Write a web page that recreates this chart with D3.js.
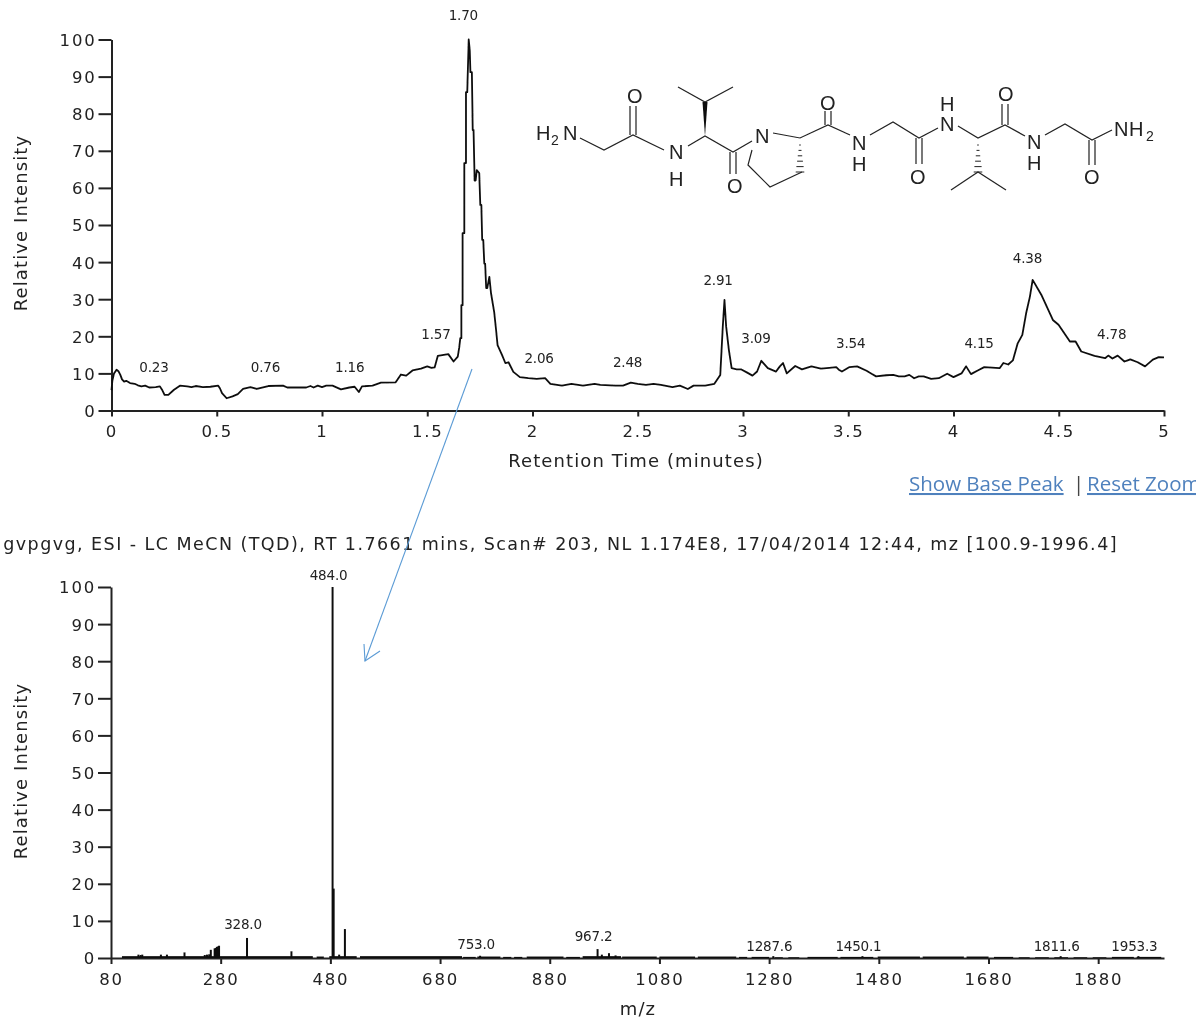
<!DOCTYPE html>
<html>
<head>
<meta charset="utf-8">
<script src="https://cdn.jsdelivr.net/npm/d3@7"></script>
<style>
  html, body { margin:0; padding:0; background:#fff; overflow:hidden; }
  svg { display:block; }
  text { font-family:"DejaVu Sans", sans-serif; fill:#222; }
  .tick text { font-size:16.5px; letter-spacing:1.8px; }
  .tick line, .domain { stroke:#222; stroke-width:2px; }
  .peak { font-size:13.5px; letter-spacing:-0.2px; }
  .title { font-size:18px; letter-spacing:1.1px; }
  .atom { font-family:"Liberation Sans", sans-serif; font-size:20px; fill:#222; }
</style>
</head>
<body>
<svg width="1196" height="1019"></svg>
<script>
// chromatogram trace
const ticTime = [
  0,0.004,0.012,0.024,0.033,0.042,0.05,0.06,0.07,0.088,
  0.11,0.125,0.142,0.16,0.179,0.21,0.23,0.24,0.252,0.27,
  0.297,0.325,0.36,0.38,0.4,0.434,0.47,0.507,0.515,0.525,
  0.547,0.575,0.6,0.625,0.66,0.69,0.745,0.815,0.835,0.88,
  0.925,0.945,0.96,0.98,1.0,1.02,1.05,1.09,1.13,1.155,
  1.175,1.19,1.24,1.28,1.35,1.375,1.4,1.43,1.47,1.5,
  1.52,1.535,1.55,1.6,1.625,1.645,1.652,1.657,1.662,1.662,
  1.668,1.668,1.676,1.676,1.684,1.684,1.69,1.697,1.702,1.705,
  1.712,1.716,1.72,1.725,1.73,1.735,1.747,1.752,1.757,1.761,
  1.766,1.771,1.775,1.78,1.785,1.795,1.803,1.818,1.827,1.834,
  1.855,1.871,1.886,1.909,1.94,1.98,2.02,2.06,2.085,2.14,
  2.185,2.24,2.295,2.322,2.394,2.43,2.467,2.5,2.539,2.575,
  2.61,2.665,2.7,2.738,2.765,2.82,2.864,2.892,2.904,2.912,
  2.92,2.933,2.946,2.97,2.99,3.02,3.045,3.067,3.087,3.118,
  3.157,3.175,3.19,3.208,3.248,3.28,3.325,3.37,3.41,3.443,
  3.455,3.47,3.506,3.542,3.587,3.632,3.68,3.714,3.74,3.768,
  3.79,3.813,3.835,3.858,3.894,3.93,3.97,4,4.038,4.06,
  4.083,4.115,4.146,4.219,4.237,4.26,4.282,4.305,4.327,4.345,
  4.363,4.376,4.417,4.472,4.499,4.553,4.58,4.607,4.67,4.72,
  4.735,4.755,4.78,4.812,4.84,4.875,4.91,4.947,4.975,5];
const ticIntensity = [
  5.5,8,10,11,10.6,9.6,8.4,7.8,8,7.4,
  7.2,6.8,6.5,6.7,6.2,6.3,6.5,5.6,4.2,4.2,
  5.6,6.7,6.5,6.3,6.6,6.3,6.4,6.7,6,4.7,
  3.3,3.8,4.4,5.8,6.3,5.8,6.6,6.7,6.2,6.2,
  6.2,6.6,6.2,6.7,6.3,6.7,6.7,5.7,6.2,6.4,
  5,6.5,6.7,7.5,7.6,9.7,9.4,10.8,11.3,11.9,
  11.5,11.6,14.7,15.2,13.2,14.5,17,19.5,19.5,28.4,
  28.4,47.8,47.8,66.7,66.7,85.8,85.8,100,97,91.2,
  91.2,75.6,75.6,62,62,64.8,64,55.4,55.4,46,
  46,39.6,39.6,33,33,36,31.6,26.5,21.7,17.6,
  15,12.8,13,10.4,9,8.7,8.5,8.7,7.2,6.7,
  7.2,6.7,7.2,6.9,6.7,6.7,7.5,7.2,6.9,7.2,
  6.9,6.3,6.7,5.8,6.7,6.7,7.2,9.6,22.6,29.8,
  22.6,16.3,11.4,11.1,11.1,10.2,9.4,10.5,13.4,11.4,
  10.5,11.9,12.8,10,12,11.1,11.9,11.3,11.5,11.7,
  11,10.5,11.7,11.9,10.7,9.2,9.5,9.6,9.2,9.2,
  9.6,8.7,9.2,9.2,8.5,8.7,9.9,9,10,11.9,
  9.8,10.8,11.7,11.4,12.8,12.4,13.5,18.1,20.4,26.2,
  30.7,35.2,31.2,24.4,23.1,18.6,18.6,15.9,14.7,14.1,
  14.8,14,14.8,13.2,13.8,13,11.9,13.7,14.4,14.3];
const ticPeakLabels = ['0.23','0.76','1.16','1.57','1.70','2.06','2.48','2.91','3.09','3.54','4.15','4.38','4.78'];
const ticPeakLevels = [10.5,10.5,10.5,19.2,105.3,12.7,11.6,33.8,18.2,16.8,16.8,39.8,19.3];
const ticTicksX = [0,0.5,1,1.5,2,2.5,3,3.5,4,4.5,5];
const intensityTicks = [0,10,20,30,40,50,60,70,80,90,100];

// mass spectrum sticks
const msMz = [130,134,137,171,182,214,251,255,259,262,269,271,273,275,277,328,409,484,486,496,506.5,753,967.2,975,988,1000,1287.6,1450.1,1811.6,1953.3];
const msIntensity = [0.9,0.8,0.9,0.9,0.9,1.5,0.8,0.9,1,2.2,2.6,2.7,3,3.1,3.3,5.4,1.8,100,18.7,0.9,7.8,0.6,2.4,0.9,1.3,0.7,0.5,0.5,0.5,0.5];
// low noise runs: from m/z, to m/z, height
const msNoiseFrom = [100,455,478,534,722,748,795,815,838,910,940,1012,1080,1150,1225,1248,1290,1315,1350,1410,1478,1560,1640,1690,1735,1765,1800,1835,1870,1905,1950];
const msNoiseTo = [448,468,528,720,745,790,810,830,905,935,1010,1075,1145,1220,1240,1280,1305,1335,1405,1470,1555,1635,1680,1725,1755,1790,1825,1860,1895,1945,1995];
const msNoiseHeight = [0.5,0.4,0.5,0.5,0.3,0.4,0.3,0.3,0.4,0.3,0.5,0.4,0.4,0.4,0.3,0.3,0.2,0.2,0.3,0.3,0.4,0.4,0.4,0.3,0.2,0.2,0.2,0.2,0.2,0.3,0.3];
const msPeakLabels = ['328.0','484.0','753.0','967.2','1287.6','1450.1','1811.6','1953.3'];
const msPeakLevels = [7.7,101.8,2.5,4.5,2.0,2.0,2.0,2.0];
const msTicksX = [80,280,480,680,880,1080,1280,1480,1680,1880];

const svg = d3.select('svg');
const defs = svg.append('defs');
defs.append('filter').attr('id','soft').append('feGaussianBlur').attr('stdDeviation',0.4);
const root = svg.append('g').attr('filter','url(#soft)');

const xTic = d3.scaleLinear().domain([0,5]).range([111.5,1164]);
const yTic = d3.scaleLinear().domain([0,100]).range([410.5,39.5]);
const xMs = d3.scaleLinear().domain([80,2000]).range([111,1164]);
const yMs = d3.scaleLinear().domain([0,100]).range([958,587]);

function drawAxes(x, y, xTicks, fmt){
  let gx = root.append('g').attr('transform','translate(0,'+y(0)+')')
    .call(d3.axisBottom(x).tickValues(xTicks).tickSize(6).tickSizeOuter(0).tickPadding(4).tickFormat(fmt));
  gx.selectAll('text').attr('dy','1em');
  let gy = root.append('g').attr('transform','translate('+x.range()[0]+',0)')
    .call(d3.axisLeft(y).tickValues(intensityTicks).tickSize(13).tickSizeOuter(0).tickPadding(2));
  gy.selectAll('text').attr('dy','0.36em');
}
drawAxes(xTic, yTic, ticTicksX, d=>d);
drawAxes(xMs, yMs, msTicksX, d=>d);

// chromatogram
root.append('path').datum(ticTime.map((t,i)=>[t,ticIntensity[i]]))
  .attr('d', d3.line().x(d=>xTic(d[0])).y(d=>yTic(d[1])))
  .attr('fill','none').attr('stroke','#111').attr('stroke-width',1.8).attr('stroke-linejoin','round');

root.selectAll('text.tl').data(ticPeakLabels).enter().append('text')
  .attr('class','peak tl').attr('text-anchor','middle')
  .attr('x',d=>xTic(+d)-6).attr('y',(d,i)=>yTic(ticPeakLevels[i])).text(d=>d);

// spectrum
root.selectAll('rect.noise').data(msNoiseFrom).enter().append('rect')
  .attr('class','noise').attr('fill','#111')
  .attr('x',d=>xMs(d)).attr('width',(d,i)=>xMs(msNoiseTo[i])-xMs(d))
  .attr('y',(d,i)=>yMs(msNoiseHeight[i])).attr('height',(d,i)=>yMs(0)-yMs(msNoiseHeight[i]));
root.selectAll('rect.stick').data(msMz).enter().append('rect')
  .attr('class','stick').attr('fill','#111')
  .attr('x',d=>xMs(d)-1).attr('width',2)
  .attr('y',(d,i)=>yMs(msIntensity[i])).attr('height',(d,i)=>yMs(0)-yMs(msIntensity[i]));

root.selectAll('text.ml').data(msPeakLabels).enter().append('text')
  .attr('class','peak ml').attr('text-anchor','middle')
  .attr('x',d=>xMs(+d)-4).attr('y',(d,i)=>yMs(msPeakLevels[i])).text(d=>d);

// axis titles
function yTitle(cy){
  root.append('text').attr('class','title').attr('transform','translate(27,'+cy+') rotate(-90)')
    .attr('text-anchor','middle').text('Relative Intensity');
}
yTitle(223); yTitle(771);
root.append('text').attr('class','title').attr('x',636).attr('y',467).attr('text-anchor','middle').text('Retention Time (minutes)');
root.append('text').attr('class','title').attr('x',638).attr('y',1015).attr('text-anchor','middle').text('m/z');

// spectrum heading, runs off the left edge
root.append('text').attr('x',1118).attr('y',550).attr('text-anchor','end')
  .style('font-size','17.5px').style('letter-spacing','1.45px')
  .text('gvpgvg, ESI - LC MeCN (TQD), RT 1.7661 mins, Scan# 203, NL 1.174E8, 17/04/2014 12:44, mz [100.9-1996.4]');

// links under the top chart
const linkStyle = s => s.style('font-family','"Open Sans", sans-serif').style('font-size','20.5px').attr('y',491);
root.append('text').call(linkStyle).attr('x',909).attr('text-decoration','underline').style('fill','#4f81bd').text('Show Base Peak');
root.append('text').call(linkStyle).attr('x',1073).style('fill','#444').text('|');
root.append('text').call(linkStyle).attr('x',1087).attr('text-decoration','underline').style('fill','#4f81bd').text('Reset Zoom');

// blue annotation arrow
const arrow = [[472,369],[365,661]];
const arrowHead = [[364,644],[365,661],[380,651]];
root.selectAll('path.arrow').data([arrow,arrowHead]).enter().append('path')
  .attr('class','arrow').attr('d',d3.line()).attr('fill','none')
  .attr('stroke','#5b9bd5').attr('stroke-width',1.1);

// peptide structure, bonds in page pixels
const bonds = [
  [[580,138],[604,150],[633,135],[664,150]],
  [[688,146],[705,136],[733,152],[752,141]],
  [[678,87],[705,102],[733,87]],
  [[752,150],[748,165],[770,187],[802,172]],
  [[773,133],[800,138],[828,125],[850,135]],
  [[870,135],[893,122],[919,138],[938,128]],
  [[958,126],[978,138],[1005,125],[1025,136]],
  [[951,190],[978,172],[1006,190]],
  [[1045,135],[1065,124],[1092,140],[1112,130]]
];
const doubleBonds = [
  [[630,135],[630,106]],[[636,135],[636,106]],
  [[730,152],[730,174]],[[736,152],[736,174]],
  [[825,125],[825,111]],[[831,125],[831,111]],
  [[916,138],[916,164]],[[922,138],[922,164]],
  [[1002,125],[1002,104]],[[1008,125],[1008,104]],
  [[1089,140],[1089,165]],[[1095,140],[1095,165]]
];
const atoms = [
  ['H',536,140],['N',563,140],['O',627,103],['N',669,159],['H',669,186],
  ['O',727,193],['N',755,143],['O',820,110],['N',852,150],['H',852,171],
  ['O',910,184],['N',940,131],['H',940,111],['O',998,101],['N',1027,149],['H',1027,170],
  ['O',1084,184],['N',1114,136],['H',1129,136]
];
const subs = [['2',551,145],['2',1146,141]];
root.selectAll('path.bond').data(bonds.concat(doubleBonds)).enter().append('path')
  .attr('class','bond').attr('d',d3.line()).attr('fill','none').attr('stroke','#222').attr('stroke-width',1.2);
root.append('path').attr('d','M705,136L702.5,102L707.5,102Z').attr('fill','#111');
[[800,140,172],[978,140,172]].forEach(h=>{
  d3.range(0,6).forEach(k=>{
    let yy = h[1]+5+k*(h[2]-h[1]-5)/5, w = 0.8+k*0.7;
    root.append('line').attr('x1',h[0]-w).attr('x2',h[0]+w).attr('y1',yy).attr('y2',yy).attr('stroke','#222').attr('stroke-width',1);
  });
});
root.selectAll('text.atom').data(atoms).enter().append('text').attr('class','atom')
  .attr('x',d=>d[1]).attr('y',d=>d[2]).text(d=>d[0]);
root.selectAll('text.sub').data(subs).enter().append('text').attr('class','sub atom')
  .style('font-size','14px').attr('x',d=>d[1]).attr('y',d=>d[2]).text(d=>d[0]);
</script>
</body>
</html>
